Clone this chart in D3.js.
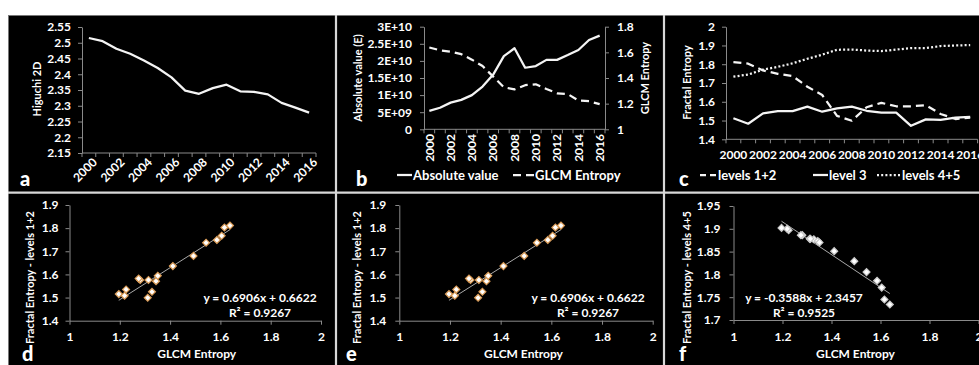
<!DOCTYPE html>
<html>
<head>
<meta charset="utf-8">
<script src="https://cdn.jsdelivr.net/npm/d3@7"></script>
<style>
  html, body { margin: 0; padding: 0; background: #ffffff; }
  svg { display: block; }
  text { font-family: Lato, "Open Sans", sans-serif; font-weight: 700; fill: #ffffff; }
</style>
</head>
<body>
<svg id="fig" width="979" height="365"></svg>
<script>
// ---- data ----
const years = d3.range(2000, 2017);
const higuchi2D = [2.515, 2.505, 2.481, 2.465, 2.444, 2.42, 2.39, 2.348, 2.338, 2.356, 2.367, 2.346, 2.344, 2.336, 2.309, 2.294, 2.278];
const absoluteValue = [5.4e9, 6.3e9, 7.8e9, 8.6e9, 1.0e10, 1.25e10, 1.6e10, 2.14e10, 2.37e10, 1.8e10, 1.85e10, 2.03e10, 2.03e10, 2.17e10, 2.32e10, 2.61e10, 2.74e10];
const glcmEntropy = [1.638, 1.616, 1.605, 1.586, 1.543, 1.493, 1.411, 1.328, 1.311, 1.344, 1.351, 1.314, 1.281, 1.275, 1.225, 1.219, 1.196];
const levels12 = [1.811, 1.803, 1.767, 1.749, 1.737, 1.680, 1.636, 1.525, 1.499, 1.571, 1.594, 1.576, 1.576, 1.582, 1.535, 1.508, 1.515];
const level3 = [1.512, 1.483, 1.538, 1.55, 1.55, 1.574, 1.547, 1.565, 1.574, 1.552, 1.542, 1.542, 1.472, 1.506, 1.503, 1.515, 1.52];
const levels45 = [1.734, 1.745, 1.771, 1.786, 1.805, 1.829, 1.851, 1.877, 1.878, 1.873, 1.870, 1.878, 1.886, 1.886, 1.897, 1.900, 1.902];

const ticksHiguchi = [2.15, 2.2, 2.25, 2.3, 2.35, 2.4, 2.45, 2.5, 2.55];
const ticksAbsolute = [0, 5e9, 1e10, 1.5e10, 2e10, 2.5e10, 3e10];
const ticksGlcm = [1, 1.2, 1.4, 1.6, 1.8];
const ticksFractal = [1.4, 1.5, 1.6, 1.7, 1.8, 1.9, 2];
const ticksScatterX = [1, 1.2, 1.4, 1.6, 1.8, 2];
const ticksScatter12 = [1.4, 1.5, 1.6, 1.7, 1.8, 1.9];
const ticksScatter45 = [1.7, 1.75, 1.8, 1.85, 1.9, 1.95];

// linear fits shown on the scatter panels: slope, intercept, R²
const fit12 = [0.6906, 0.6622, 0.9267];
const fit45 = [-0.3588, 2.3457, 0.9525];

// ---- styles ----
const AXIS = "#8a8a8a";
const LINE = "#f4f4f4";
const plain = d => String(+d.toFixed(3));
const sci = d => {
  if (d === 0) return "0";
  const e = Math.floor(Math.log10(d));
  const m = d / Math.pow(10, e);
  return `${+m.toFixed(2)}E+${String(e).padStart(2, "0")}`;
};

const svg = d3.select("#fig");

// black canvas with panel separators
svg.append("rect").attr("x", 8).attr("y", 15).attr("width", 971).attr("height", 350).attr("fill", "#000");
svg.append("line").attr("x1", 8.5).attr("x2", 8.5).attr("y1", 15).attr("y2", 365).attr("stroke", "#777").attr("stroke-width", 1);
svg.append("line").attr("x1", 8).attr("x2", 979).attr("y1", 15.5).attr("y2", 15.5).attr("stroke", "#777").attr("stroke-width", 1);
[336, 664].forEach(x => svg.append("line").attr("x1", x).attr("x2", x).attr("y1", 15).attr("y2", 365)
  .attr("stroke", "#d8d8d8").attr("stroke-width", 2.2));
svg.append("line").attr("x1", 8).attr("x2", 979).attr("y1", 192.7).attr("y2", 192.7)
  .attr("stroke", "#d8d8d8").attr("stroke-width", 2.2);

function styleAxis(g, size) {
  g.select(".domain").attr("stroke", AXIS);
  g.selectAll(".tick line").attr("stroke", AXIS);
  g.selectAll(".tick text").attr("fill", "#fff").style("font-size", (size || 12) + "px")
    .style("font-family", "Lato, 'Open Sans', sans-serif").style("font-weight", 700);
  return g;
}

function valueAxis(axisFn, scale, pos, ticks, fmt, size, pad, horizontal) {
  const a = axisFn(scale).tickValues(ticks).tickFormat(fmt).tickSize(4).tickSizeOuter(0).tickPadding(pad);
  const g = svg.append("g").attr("transform", horizontal ? `translate(0,${pos})` : `translate(${pos},0)`).call(a);
  return styleAxis(g, size);
}

// category axis with ticks between categories
function categoryAxis(x, y0) {
  const r = x.range();
  const g = svg.append("g");
  g.append("line").attr("x1", r[0]).attr("x2", r[1]).attr("y1", y0).attr("y2", y0).attr("stroke", AXIS);
  g.selectAll("line.tk").data(d3.range(years.length + 1)).join("line").attr("class", "tk")
    .attr("x1", i => r[0] + i * x.step()).attr("x2", i => r[0] + i * x.step())
    .attr("y1", y0).attr("y2", y0 + 4).attr("stroke", AXIS);
  return g;
}

function seriesLine(x, y, values, dash, width) {
  const line = d3.line().x((d, i) => x(years[i]) + x.bandwidth() / 2).y(d => y(d));
  svg.append("path").datum(values).attr("d", line).attr("fill", "none")
    .attr("stroke", LINE).attr("stroke-width", width || 2.25)
    .attr("stroke-linejoin", "round").attr("stroke-dasharray", dash || null);
}

function rotatedTitle(text, x, y, size) {
  svg.append("text").attr("transform", `translate(${x},${y}) rotate(-90)`)
    .attr("text-anchor", "middle").attr("dy", "0.35em").style("font-size", (size || 11) + "px").text(text);
}

function panelLetter(ch, x, y) {
  svg.append("text").attr("x", x).attr("y", y).style("font-size", "20px").style("font-weight", 900).text(ch);
}

function legendItem(x, y, len, dash, label) {
  svg.append("line").attr("x1", x).attr("x2", x + len).attr("y1", y).attr("y2", y)
    .attr("stroke", LINE).attr("stroke-width", 2.25).attr("stroke-dasharray", dash || null);
  svg.append("text").attr("x", x + len + 1).attr("y", y).attr("dy", "0.35em").style("font-size", "13px").text(label);
}

// ---- (a) Higuchi 2D ----
{
  const x = d3.scaleBand().domain(years).range([82, 316]);
  const y = d3.scaleLinear().domain([2.15, 2.55]).range([153, 27]);
  valueAxis(d3.axisLeft, y, 82, ticksHiguchi, plain, 12, 7);
  categoryAxis(x, 153);
  svg.append("g").selectAll("text").data(years.filter(d => d % 2 === 0)).join("text")
    .attr("transform", d => `translate(${x(d) + x.bandwidth() / 2 + 6},${160}) rotate(-45)`)
    .attr("text-anchor", "end").attr("dy", "0.35em").style("font-size", "12px").text(d => d);
  seriesLine(x, y, higuchi2D);
  rotatedTitle("Higuchi 2D", 37, 89, 11);
  panelLetter("a", 20, 186);
}

// ---- (b) absolute value and GLCM entropy ----
{
  const x = d3.scaleBand().domain(years).range([424, 605]);
  const yL = d3.scaleLinear().domain([0, 3e10]).range([129.3, 26.7]);
  const yR = d3.scaleLinear().domain([1, 1.8]).range([129.3, 26.7]);
  valueAxis(d3.axisLeft, yL, 424, ticksAbsolute, sci, 12, 8);
  valueAxis(d3.axisRight, yR, 605, ticksGlcm, plain, 12, 8);
  categoryAxis(x, 129.3);
  svg.append("g").selectAll("text").data(years.filter(d => d % 2 === 0)).join("text")
    .attr("transform", d => `translate(${x(d) + x.bandwidth() / 2},${134}) rotate(-90)`)
    .attr("text-anchor", "end").attr("dy", "0.35em").style("font-size", "12px").text(d => d);
  seriesLine(x, yL, absoluteValue);
  seriesLine(x, yR, glcmEntropy, "8,5");
  rotatedTitle("Absolute value (E)", 358.5, 78, 11);
  rotatedTitle("GLCM Entropy", 645, 78, 11);
  legendItem(397, 175, 15, null, "Absolute value");
  legendItem(513, 175, 21, "8,5", "GLCM Entropy");
  panelLetter("b", 356, 186);
}

// ---- (c) fractal entropy by level ----
{
  const x = d3.scaleBand().domain(years).range([726, 977.6]);
  const y = d3.scaleLinear().domain([1.4, 2]).range([139.3, 26.7]);
  valueAxis(d3.axisLeft, y, 726, ticksFractal, plain, 12, 7);
  categoryAxis(x, 139.3);
  svg.append("g").selectAll("text").data(years.filter(d => d % 2 === 0)).join("text")
    .attr("x", d => x(d) + x.bandwidth() / 2).attr("y", 155).attr("text-anchor", "middle")
    .attr("dy", "0.35em").style("font-size", "12px").text(d => d);
  seriesLine(x, y, levels12, "8,5");
  seriesLine(x, y, level3);
  seriesLine(x, y, levels45, "2,2.2");
  rotatedTitle("Fractal Entropy", 686.7, 82.5, 11);
  legendItem(700, 175, 17, "6,4", "levels 1+2");
  legendItem(813, 175, 15, null, "level 3");
  legendItem(877, 175, 24, "2,2.2", "levels 4+5");
  panelLetter("c", 679, 186);
}

// ---- scatter panels ----
function scatterPanel(opt) {
  const x = d3.scaleLinear().domain([1, 2]).range(opt.xr);
  const y = d3.scaleLinear().domain(opt.yd).range(opt.yr);
  valueAxis(d3.axisLeft, y, opt.xr[0], opt.yTicks, plain, 12, opt.ypad);
  valueAxis(d3.axisBottom, x, opt.yr[0], ticksScatterX, plain, 12, 8, true);
  const pts = glcmEntropy.map((g, i) => [g, opt.values[i]]);
  const ext = d3.extent(glcmEntropy);
  const [m, b, r2] = opt.fit;
  svg.append("line")
    .attr("x1", x(ext[0])).attr("y1", y(m * ext[0] + b))
    .attr("x2", x(ext[1])).attr("y2", y(m * ext[1] + b))
    .attr("stroke", "#a8a8a8").attr("stroke-width", 1);
  svg.append("g").selectAll("path").data(pts).join("path")
    .attr("transform", d => `translate(${x(d[0])},${y(d[1])}) rotate(45)`)
    .attr("d", d3.symbol(d3.symbolSquare, 24))
    .attr("fill", "#ffffff").attr("stroke", opt.edge).attr("stroke-width", 1.2);
  const sign = b < 0 ? "-" : "+";
  svg.append("text").attr("x", opt.eq[0]).attr("y", opt.eq[1]).attr("text-anchor", "middle")
    .attr("dy", "0.35em").style("font-size", "12px")
    .text(`y = ${m.toFixed(4)}x ${sign} ${Math.abs(b).toFixed(4)}`);
  svg.append("text").attr("x", opt.eq[0]).attr("y", opt.eq[1] + 15.4).attr("text-anchor", "middle")
    .attr("dy", "0.35em").style("font-size", "12px").text(`R² = ${r2.toFixed(4)}`);
  svg.append("text").attr("x", opt.xt).attr("y", 353.3).attr("text-anchor", "middle")
    .attr("dy", "0.35em").style("font-size", "12px").text("GLCM Entropy");
  rotatedTitle(opt.title, opt.yt, 277.5, 11);
  panelLetter(opt.letter, opt.lx, 361);
}

scatterPanel({ xr: [69.5, 321], yd: [1.4, 1.9], yr: [320.7, 205], yTicks: ticksScatter12, ypad: 7,
  values: levels12, fit: fit12, edge: "#d99a55", eq: [260, 297.3], xt: 196.7, yt: 30,
  title: "Fractal Entropy - levels 1+2", letter: "d", lx: 22 });
scatterPanel({ xr: [399.3, 652.7], yd: [1.4, 1.9], yr: [320.7, 205], yTicks: ticksScatter12, ypad: 9,
  values: levels12, fit: fit12, edge: "#d99a55", eq: [588, 297.3], xt: 523.5, yt: 357.5,
  title: "Fractal Entropy - levels 1+2", letter: "e", lx: 346 });
scatterPanel({ xr: [733.5, 978.5], yd: [1.7, 1.95], yr: [320, 206], yTicks: ticksScatter45, ypad: 9,
  values: levels45, fit: fit45, edge: "#c8c8c8", eq: [804, 297.3], xt: 855.5, yt: 686.7,
  title: "Fractal Entropy - levels 4+5", letter: "f", lx: 679 });
</script>
</body>
</html>
